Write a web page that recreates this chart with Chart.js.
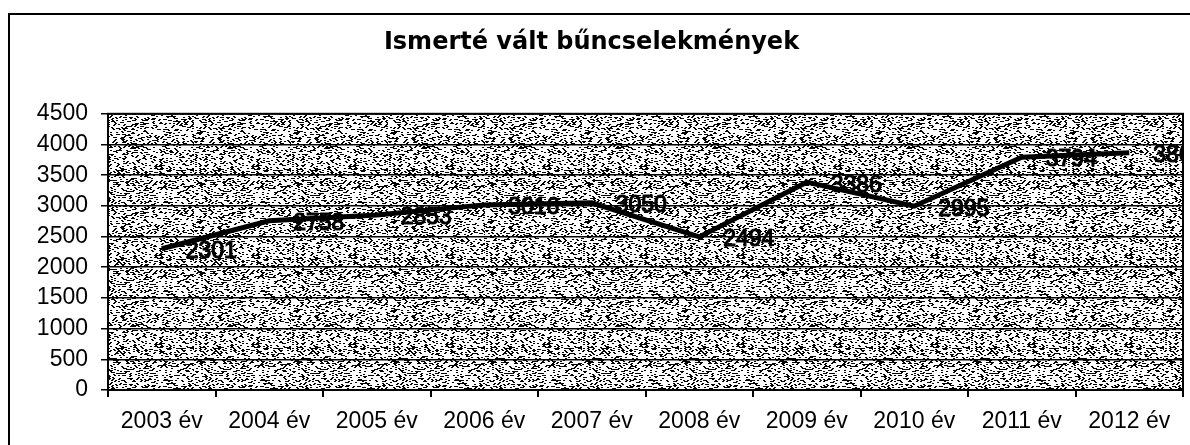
<!DOCTYPE html>
<html>
<head>
<meta charset="utf-8">
<script src="https://cdn.jsdelivr.net/npm/chart.js@4"></script>
<style>
  body { margin: 0; background: #fff; }
  #wrap { position: relative; width: 1190px; height: 445px; }
  #frame { position: absolute; left: 8px; top: 13px; width: 1200px; height: 450px;
           border-left: 2px solid #000; border-top: 2px solid #000; }
  canvas { position: absolute; left: 0; top: 0; }
</style>
</head>
<body>
<div id="wrap">
  <div id="frame"></div>
  <canvas id="graph" width="1190" height="445"></canvas>
</div>
<script>
// chart data
const years = ['2003 év', '2004 év', '2005 év', '2006 év', '2007 év',
               '2008 év', '2009 év', '2010 év', '2011 év', '2012 év'];
const crimes = [2301, 2758, 2853, 3016, 3050, 2494, 3386, 2995, 3794, 3866];
const yMin = 0;
const yMax = 4500;
const yStep = 500;
const chartTitle = 'Ismerté vált bűncselekmények';

// scanned grey texture behind the plot (fixed dither, not data)
function makeTexture() {
  const c = document.createElement('canvas');
  c.width = 97; c.height = 89;
  const g = c.getContext('2d');
  g.fillStyle = '#fff';
  g.fillRect(0, 0, c.width, c.height);
  g.fillStyle = '#000';
  for (let y = 0; y < c.height; y += 1) {
    for (let x = 0; x < c.width; x += 2) {
      let h = (x * 374761393 + y * 668265263) | 0;
      h = (h ^ (h >>> 13)) * 1274126177;
      h = (h ^ (h >>> 16)) >>> 0;
      if ((h % 100) < 28) g.fillRect(x + (y % 2), y, 2, 1);
    }
  }
  return c;
}

const plotBackground = {
  id: 'plotBackground',
  beforeDraw(chart) {
    const a = chart.chartArea, ctx = chart.ctx;
    ctx.save();
    ctx.fillStyle = ctx.createPattern(makeTexture(), 'repeat');
    ctx.fillRect(a.left, a.top, a.right - a.left, a.bottom - a.top);
    ctx.restore();
  },
  afterDraw(chart) {
    const a = chart.chartArea, ctx = chart.ctx;
    ctx.save();
    ctx.strokeStyle = '#000';
    ctx.lineWidth = 2;
    ctx.strokeRect(a.left, a.top, a.right - a.left, a.bottom - a.top);
    ctx.restore();
  }
};

// value labels right of each point
const valueLabels = {
  id: 'valueLabels',
  afterDatasetsDraw(chart) {
    const ctx = chart.ctx, a = chart.chartArea;
    const meta = chart.getDatasetMeta(0);
    ctx.save();
    ctx.beginPath();
    ctx.rect(a.left, a.top, a.right - a.left, a.bottom - a.top);
    ctx.clip();
    ctx.font = '23px "Liberation Sans"';
    ctx.fillStyle = '#000';
    ctx.strokeStyle = '#000';
    ctx.lineWidth = 1.2;
    ctx.textAlign = 'left';
    ctx.textBaseline = 'middle';
    meta.data.forEach(function (pt, i) {
      ctx.fillText(String(crimes[i]), pt.x + 24, pt.y + 3);
      ctx.strokeText(String(crimes[i]), pt.x + 24, pt.y + 3);
    });
    ctx.restore();
  }
};

new Chart(document.getElementById('graph'), {
  type: 'line',
  data: {
    labels: years,
    datasets: [{
      data: crimes,
      borderColor: '#000',
      borderWidth: 5,
      pointRadius: 0,
      tension: 0
    }]
  },
  options: {
    responsive: false,
    animation: false,
    layout: { padding: { left: 0, right: 7, top: 0, bottom: 0 } },
    plugins: {
      legend: { display: false },
      tooltip: { enabled: false },
      title: {
        display: true,
        text: chartTitle,
        color: '#000',
        font: { family: 'DejaVu Sans', size: 24, weight: 'bold', lineHeight: 1.2 },
        padding: { top: 28, bottom: 57 }
      }
    },
    scales: {
      x: {
        offset: true,
        border: { color: '#000', width: 2 },
        grid: { display: true, drawOnChartArea: false, color: '#000', lineWidth: 2, tickLength: 7, offset: true },
        ticks: { color: '#000', padding: 11, maxRotation: 0, autoSkip: false,
                 font: { family: 'Liberation Sans', size: 23 } },
        afterFit(scale) { scale.height = 55; }
      },
      y: {
        min: yMin,
        max: yMax,
        border: { color: '#000', width: 2 },
        grid: { color: '#000', lineWidth: 1.5, tickLength: 7 },
        ticks: { stepSize: yStep, color: '#000', padding: 13,
                 font: { family: 'Liberation Sans', size: 23 },
                 callback: function (v) { return String(v); } },
        afterFit(scale) { scale.width = 108; }
      }
    }
  },
  plugins: [plotBackground, valueLabels]
});
</script>
</body>
</html>
